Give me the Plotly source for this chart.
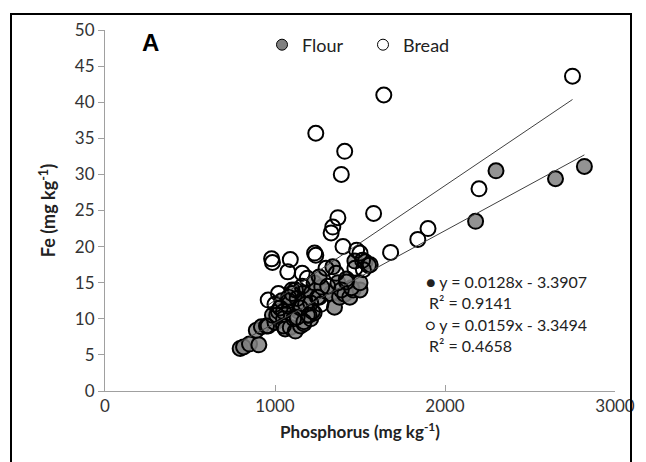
import plotly.graph_objects as go
import numpy as np

# Flour (filled grey) samples: phosphorus (mg/kg), Fe (mg/kg)
flour_p = [795, 815, 850, 905, 890, 920, 960, 1000, 985, 1020, 1050, 1060, 1090, 1120,
           1150, 1170, 1210, 1230, 1190, 1140, 1100, 1070, 1040, 1110, 1150, 1160, 1200,
           1215, 1260, 1300, 1330, 1350, 1380, 1410, 1440, 1460, 1500, 1230, 1275, 1370,
           1450, 1500, 1420, 1340, 1470, 1530, 1550, 1260, 1100, 1080, 1180, 1130,
           2180, 2300, 2650, 2820]
flour_fe = [5.9, 6.1, 6.5, 6.4, 8.4, 8.9, 9.0, 9.5, 10.5, 11.0, 10.0, 8.6, 8.8, 8.3,
            9.0, 9.3, 10.0, 10.8, 10.5, 11.0, 11.5, 12.0, 12.5, 12.8, 12.0, 13.5, 13.0,
            13.6, 13.0, 13.8, 13.5, 11.6, 13.0, 13.4, 13.0, 14.0, 14.0, 15.0, 14.4, 15.0,
            14.3, 15.0, 15.5, 17.2, 18.0, 17.9, 17.4, 15.8, 14.0, 13.0, 12.0, 10.2,
            23.5, 30.5, 29.4, 31.1]

# Bread (open) samples
bread_p = [960, 980, 985, 1000, 1010, 1030, 1050, 1080, 1075, 1090, 1100, 1120, 1130,
           1150, 1160, 1170, 1190, 1200, 1210, 1220, 1233, 1240, 1250, 1270, 1300, 1310,
           1330, 1340, 1370, 1390, 1400, 1420, 1390, 1410, 1240, 1640, 1580, 1480, 1500,
           1515, 1560, 1680, 1840, 1900, 2200, 2750, 1050, 1110, 1160, 1360, 1470, 1520,
           1020, 950]
bread_fe = [12.6, 18.3, 17.8, 12.0, 10.5, 11.5, 11.0, 12.5, 16.5, 18.2, 13.5, 14.0, 12.8,
            11.5, 16.3, 9.6, 15.6, 10.5, 12.2, 11.0, 19.1, 18.8, 13.0, 12.0, 17.0, 14.5,
            21.9, 22.7, 24.0, 14.0, 20.0, 15.1, 30.0, 33.2, 35.7, 41.0, 24.6, 19.5, 19.1,
            18.1, 17.5, 19.2, 21.0, 22.5, 28.0, 43.6, 9.0, 10.0, 14.5, 16.3, 17.0, 16.8,
            13.5, 9.0]

# Trendline equations shown on the chart
flour_slope, flour_int, flour_r2 = 0.0128, -3.3907, 0.9141
bread_slope, bread_int, bread_r2 = 0.0159, -3.3494, 0.4658

x_ticks = [0, 1000, 2000, 3000]
y_ticks = [0, 5, 10, 15, 20, 25, 30, 35, 40, 45, 50]

FONT = "Lato, Open Sans, sans-serif"

# page offset of the figure (default body margin) and plot area in page pixels
OFF = 8
PL, PR, PT, PB = 105, 615, 30, 391
W, H = 646 - OFF, 462 - OFF


def px(x):
    return (x - PL) / (PR - PL)


def py(y):
    return (PB - y) / (PB - PT)


fig = go.Figure()

fx = np.array([min(flour_p), max(flour_p)])
bx = np.array([min(bread_p), max(bread_p)])

fig.add_trace(go.Scatter(x=flour_p, y=flour_fe, mode="markers", showlegend=False,
                         marker=dict(size=15, color="rgba(128,128,128,0.85)",
                                     line=dict(color="black", width=2))))
fig.add_trace(go.Scatter(x=bread_p, y=bread_fe, mode="markers", showlegend=False,
                         marker=dict(size=15, color="rgba(255,255,255,0)",
                                     line=dict(color="black", width=2))))
fig.add_trace(go.Scatter(x=bx, y=bread_slope * bx + bread_int, mode="lines",
                         showlegend=False, line=dict(color="#404040", width=1)))
fig.add_trace(go.Scatter(x=fx, y=flour_slope * fx + flour_int, mode="lines",
                         showlegend=False, line=dict(color="#404040", width=1)))

# legend entries
fig.add_trace(go.Scatter(x=[None], y=[None], mode="markers", name="Flour",
                         marker=dict(size=11, color="#808080", line=dict(color="black", width=1))))
fig.add_trace(go.Scatter(x=[None], y=[None], mode="markers", name="Bread",
                         marker=dict(size=11, color="white", line=dict(color="black", width=1))))

fig.update_layout(
    width=W, height=H,
    margin=dict(l=PL - OFF, r=W - (PR - OFF), t=PT - OFF, b=H - (PB - OFF), pad=0),
    plot_bgcolor="white", paper_bgcolor="white",
    font=dict(family=FONT, size=17, color="#333"),
    legend=dict(orientation="h", x=px(262), y=py(45), xanchor="left", yanchor="middle",
                font=dict(size=18, family=FONT, color="#222"), bgcolor="rgba(0,0,0,0)",
                entrywidth=56, entrywidthmode="pixels", itemwidth=30),
    xaxis=dict(range=[0, 3000], tickvals=x_ticks, showgrid=False, zeroline=False,
               showline=True, linecolor="#a0a0a0", linewidth=1,
               ticks="inside", ticklen=6, tickcolor="#a0a0a0",
               tickfont=dict(size=17, family=FONT, color="#333"),
               title=dict(text="<b>Phosphorus (mg kg<sup>-1</sup>)</b>",
                          font=dict(size=17, family=FONT, color="#222"), standoff=10)),
    yaxis=dict(range=[0, 50], tickvals=y_ticks, showgrid=False, zeroline=False,
               showline=True, linecolor="#a0a0a0", linewidth=1,
               ticks="outside", ticklen=6, tickcolor="#a0a0a0",
               tickfont=dict(size=17, family=FONT, color="#333"),
               title=dict(text="<b>Fe (mg kg<sup>-1</sup>)</b>",
                          font=dict(size=18, family=FONT, color="#222"), standoff=14)),
)

fig.add_annotation(x=px(150), y=py(42), xref="paper", yref="paper", text="<b>A</b>",
                   showarrow=False, font=dict(size=24, family="Liberation Sans, Arial", color="black"),
                   xanchor="center", yanchor="middle")

eq_texts = [
    "\u25CF y = %.4fx - %.4f" % (flour_slope, -flour_int),
    "R\u00b2 = %.4f" % flour_r2,
    "\u25CB y = %.4fx - %.4f" % (bread_slope, -bread_int),
    "R\u00b2 = %.4f" % bread_r2,
]
eq_y = [281, 302, 324, 345]
eq_x = [506, 470, 506, 470]
for txt, yy, xx in zip(eq_texts, eq_y, eq_x):
    fig.add_annotation(x=px(xx), y=py(yy), xref="paper", yref="paper",
                       text=txt, showarrow=False, xanchor="center", yanchor="middle",
                       font=dict(size=16, family=FONT, color="#222"))

# outer frame around the whole panel (bottom edge lies below the picture)
fig.add_annotation(x=px(10), y=py(13), xref="paper", yref="paper", text=" ",
                   showarrow=False, xanchor="left", yanchor="top",
                   width=618, height=480, borderwidth=2, borderpad=0,
                   bordercolor="black", bgcolor="rgba(0,0,0,0)",
                   font=dict(size=10, family=FONT))

fig.write_html("out.html")
